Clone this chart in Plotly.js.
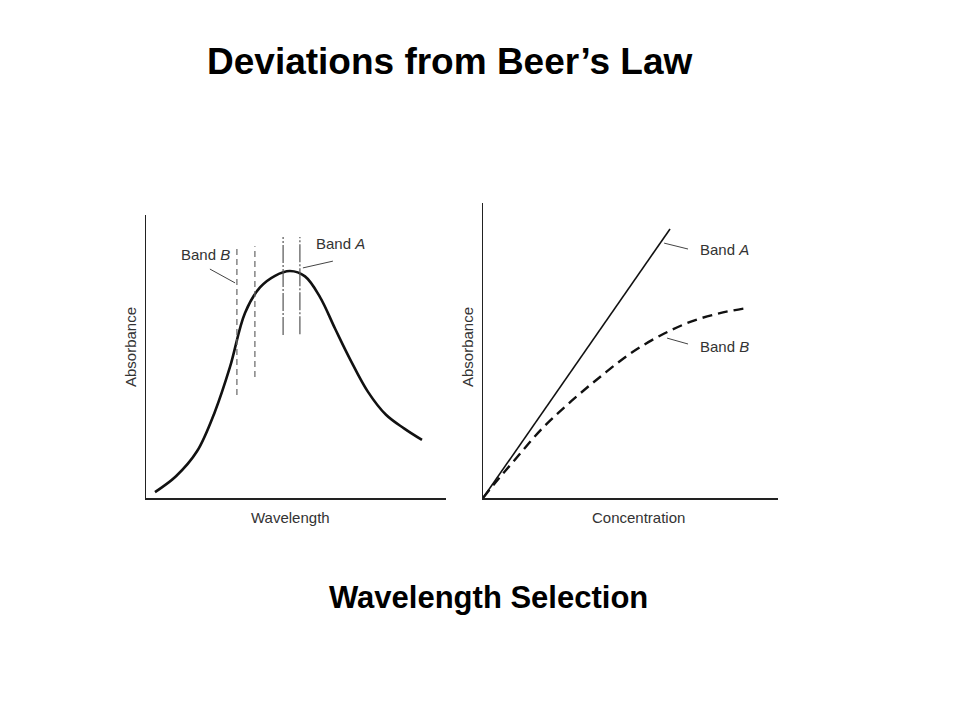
<!DOCTYPE html>
<html>
<head>
<meta charset="utf-8">
<script src="https://cdn.plot.ly/plotly-3.0.1.min.js"></script>
<style>html,body{margin:0;padding:0;background:#fff;}#chart{width:960px;height:720px;}</style>
</head>
<body>
<div id="chart"></div>
<script>
// Left panel: absorption spectrum (arbitrary units)
const wavelength = [3, 10, 17, 23, 28, 33, 38, 43, 48, 53, 58, 63, 68, 74, 80, 86, 92];
const spectrumAbs = [0.021, 0.077, 0.165, 0.306, 0.463, 0.654, 0.744, 0.785, 0.802, 0.783, 0.710, 0.599, 0.491, 0.375, 0.294, 0.246, 0.205];
// Band edges (wavelength) and their drawn extent (absorbance)
const bandBEdges = [30.3, 36.3];
const bandBLow = [0.364, 0.428];
const bandBHigh = [0.883, 0.890];
const bandAEdges = [45.7, 51.3];
const bandALow = [0.576, 0.579];
const bandAHigh = [0.922, 0.922];
// Right panel: absorbance vs concentration
const concA = [0, 63.4];
const absA = [0, 0.912];
const concB = [0, 5, 10, 20, 30, 40, 50, 60, 70, 80, 90];
const absB = [0, 0.062, 0.120, 0.235, 0.329, 0.413, 0.490, 0.550, 0.596, 0.626, 0.645];

const traces = [];
traces.push({x: wavelength, y: spectrumAbs, type: 'scatter', mode: 'lines',
  line: {color: '#111', width: 2.6, shape: 'spline', smoothing: 1.0}, xaxis: 'x', yaxis: 'y', hoverinfo: 'skip'});
bandBEdges.forEach((e, i) => traces.push({x: [e, e], y: [bandBLow[i], bandBHigh[i]], type: 'scatter', mode: 'lines',
  line: {color: '#666', width: 1.2, dash: '6px,4px'}, xaxis: 'x', yaxis: 'y', hoverinfo: 'skip'}));
bandAEdges.forEach((e, i) => traces.push({x: [e, e], y: [bandALow[i], bandAHigh[i]], type: 'scatter', mode: 'lines',
  line: {color: '#555', width: 1.2, dash: '18px,2px,2px,2px'}, xaxis: 'x', yaxis: 'y', hoverinfo: 'skip'}));
traces.push({x: concA, y: absA, type: 'scatter', mode: 'lines',
  line: {color: '#111', width: 1.6}, xaxis: 'x2', yaxis: 'y2', hoverinfo: 'skip'});
traces.push({x: concB, y: absB, type: 'scatter', mode: 'lines',
  line: {color: '#111', width: 2.4, dash: '10px,6px', shape: 'spline', smoothing: 1.0}, xaxis: 'x2', yaxis: 'y2', hoverinfo: 'skip'});

const axBase = {showgrid: false, zeroline: false, showticklabels: false, ticks: '', showline: true,
  linecolor: '#222', linewidth: 1.5, fixedrange: true};
const lblFont = {family: 'Liberation Sans, Arial, sans-serif', size: 15, color: '#333'};

const layout = {
  width: 960, height: 720, margin: {l: 0, r: 0, t: 0, b: 0},
  paper_bgcolor: '#fff', plot_bgcolor: '#fff', showlegend: false,
  xaxis: Object.assign({}, axBase, {domain: [146/960, 446/960], range: [0, 100]}),
  yaxis: Object.assign({}, axBase, {domain: [1 - 498/720, 1 - 215/720], range: [0, 1]}),
  xaxis2: Object.assign({}, axBase, {domain: [483/960, 778/960], range: [0, 100], anchor: 'y2'}),
  yaxis2: Object.assign({}, axBase, {domain: [1 - 498/720, 1 - 203/720], range: [0, 1], anchor: 'x2'}),
  shapes: [
    {type: 'line', xref: 'x', yref: 'y', x0: 21.3, y0: 0.809, x1: 29.7, y1: 0.760, line: {color: '#444', width: 1}},
    {type: 'line', xref: 'x', yref: 'y', x0: 52.3, y0: 0.813, x1: 62.3, y1: 0.837, line: {color: '#444', width: 1}},
    {type: 'line', xref: 'x2', yref: 'y2', x0: 61.4, y0: 0.864, x1: 69.5, y1: 0.844, line: {color: '#444', width: 1}},
    {type: 'line', xref: 'x2', yref: 'y2', x0: 62.4, y0: 0.542, x1: 69.5, y1: 0.522, line: {color: '#444', width: 1}}
  ],
  annotations: [
    {text: '<b>Deviations from Beer’s Law</b>', xref: 'paper', yref: 'paper', x: 449/960, y: 1 - 61/720,
      showarrow: false, xanchor: 'center', yanchor: 'middle', font: {family: 'Liberation Sans, Arial, sans-serif', size: 37, color: '#000'}},
    {text: '<b>Wavelength Selection</b>', xref: 'paper', yref: 'paper', x: 488/960, y: 1 - 597/720,
      showarrow: false, xanchor: 'center', yanchor: 'middle', font: {family: 'Liberation Sans, Arial, sans-serif', size: 31, color: '#000'}},
    {text: 'Band <i>B</i>', xref: 'x', yref: 'y', x: 19.7, y: 0.859, showarrow: false, font: lblFont},
    {text: 'Band <i>A</i>', xref: 'x', yref: 'y', x: 64.7, y: 0.901, showarrow: false, font: lblFont},
    {text: 'Band <i>A</i>', xref: 'x2', yref: 'y2', x: 82, y: 0.841, showarrow: false, font: lblFont},
    {text: 'Band <i>B</i>', xref: 'x2', yref: 'y2', x: 82, y: 0.512, showarrow: false, font: lblFont},
    {text: 'Absorbance', xref: 'paper', yref: 'paper', x: 130/960, y: 1 - 347/720, textangle: -90,
      showarrow: false, xanchor: 'center', yanchor: 'middle', font: lblFont},
    {text: 'Absorbance', xref: 'paper', yref: 'paper', x: 467/960, y: 1 - 347/720, textangle: -90,
      showarrow: false, xanchor: 'center', yanchor: 'middle', font: lblFont},
    {text: 'Wavelength', xref: 'paper', yref: 'paper', x: 290/960, y: 1 - 517/720,
      showarrow: false, xanchor: 'center', yanchor: 'middle', font: lblFont},
    {text: 'Concentration', xref: 'paper', yref: 'paper', x: 638/960, y: 1 - 517/720,
      showarrow: false, xanchor: 'center', yanchor: 'middle', font: lblFont}
  ]
};

Plotly.newPlot('chart', traces, layout, {displayModeBar: false, staticPlot: true});
</script>
</body>
</html>
